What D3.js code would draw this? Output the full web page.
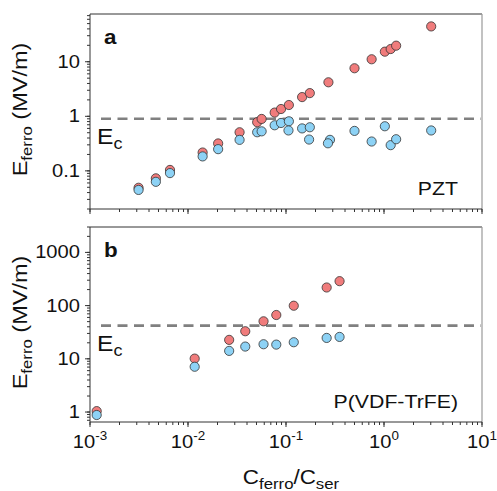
<!DOCTYPE html>
<html>
<head>
<meta charset="utf-8">
<script src="https://cdn.jsdelivr.net/npm/d3@7"></script>
<style>
  body { margin: 0; background: #fff; }
  text { font-family: "Liberation Sans", Arial, sans-serif; fill: #111; }
</style>
</head>
<body>
<div id="chart"></div>
<script>
// ---- data ----
// panel a : PZT
var pztRedC  = [0.00313, 0.0047, 0.00655, 0.0141, 0.0203, 0.0336, 0.0508, 0.0564, 0.0766, 0.089, 0.107, 0.146, 0.175, 0.271, 0.50, 0.748, 1.02, 1.17, 1.33, 3.03];
var pztRedE  = [0.049, 0.073, 0.104, 0.217, 0.318, 0.51, 0.78, 0.894, 1.17, 1.36, 1.61, 2.25, 2.66, 4.2, 7.6, 11.1, 15.3, 17.1, 19.7, 44.4];
var pztBlueC = [0.00313, 0.0047, 0.00655, 0.0141, 0.0203, 0.0336, 0.0508, 0.0564, 0.0766, 0.089, 0.107, 0.106, 0.146, 0.175, 0.172, 0.281, 0.268, 0.50, 0.748, 1.02, 1.17, 1.33, 3.03];
var pztBlueE = [0.0447, 0.063, 0.091, 0.184, 0.25, 0.37, 0.51, 0.53, 0.685, 0.755, 0.81, 0.55, 0.60, 0.63, 0.375, 0.37, 0.32, 0.54, 0.345, 0.657, 0.296, 0.38, 0.55];
var pztEc = 0.9;

// panel b : P(VDF-TrFE)
var pvdfC     = [0.00117, 0.0117, 0.0263, 0.0384, 0.059, 0.0796, 0.12, 0.26, 0.352];
var pvdfRedE  = [1.04, 10.1, 22.7, 33, 50.7, 66.6, 99.5, 219, 288];
var pvdfBlueE = [0.88, 7.1, 14.1, 17.0, 18.8, 18.5, 20.5, 24.7, 25.8];
var pvdfEc = 42;

var xTicks  = [1e-3, 1e-2, 1e-1, 1, 10];
var xExp    = ["-3", "-2", "-1", "0", "1"];
var yTicksA = [0.1, 1, 10];
var yTicksB = [1, 10, 100, 1000];

var W = 497, H = 491;
var redFill = "#f07c7c", blueFill = "#8dd2f5";
var K = 1.12; // the original lettering is a little wide

var svg = d3.select("#chart").append("svg")
  .attr("width", W).attr("height", H);

var x = d3.scaleLog().domain([1e-3, 10]).range([90, 482]);

// minor tick values for a log domain
function minorTicks(lo, hi) {
  var out = [];
  for (var e = Math.floor(Math.log10(lo)); e <= Math.ceil(Math.log10(hi)); e++) {
    for (var m = 1; m <= 9; m++) {
      var v = m * Math.pow(10, e);
      if (v >= lo * 0.9999 && v <= hi * 1.0001) out.push(v);
    }
  }
  return out;
}

// widen a text horizontally about its own x position
function widen(sel) {
  sel.attr("transform", function() {
    var px = +d3.select(this).attr("x");
    return "translate(" + px + ",0) scale(" + K + ",1) translate(" + (-px) + ",0)";
  });
}

function drawPanel(top, bottom, yDomain, yTicks, redC, redE, blueC, blueE, ec, letter, name, showXLabels) {
  var y = d3.scaleLog().domain(yDomain).range([bottom, top]);
  var g = svg.append("g");

  // frame: top + right lighter
  g.append("line").attr("x1", x.range()[0]).attr("x2", x.range()[1])
    .attr("y1", top).attr("y2", top).attr("stroke", "#333").attr("stroke-width", 1);
  g.append("line").attr("x1", x.range()[1]).attr("x2", x.range()[1])
    .attr("y1", top).attr("y2", bottom).attr("stroke", "#999").attr("stroke-width", 1.2);

  // y axis
  var yAxis = g.append("g").attr("transform", "translate(" + x.range()[0] + ",0)");
  yAxis.append("line").attr("y1", top).attr("y2", bottom).attr("stroke", "#333");
  yAxis.selectAll(".ymin").data(minorTicks(yDomain[0], yDomain[1])).enter()
    .append("line")
    .attr("x1", -3).attr("x2", 0)
    .attr("y1", function(d) { return y(d); }).attr("y2", function(d) { return y(d); })
    .attr("stroke", "#333");
  yAxis.selectAll(".ymaj").data(yTicks).enter()
    .append("line")
    .attr("x1", -5).attr("x2", 0)
    .attr("y1", function(d) { return y(d); }).attr("y2", function(d) { return y(d); })
    .attr("stroke", "#333");
  yAxis.selectAll(".ylab").data(yTicks).enter()
    .append("text")
    .attr("x", -10).attr("y", function(d) { return y(d) + 6; })
    .attr("text-anchor", "end").attr("font-size", 18)
    .text(function(d) { return d; })
    .call(widen);

  // x axis
  var xAxis = g.append("g").attr("transform", "translate(0," + bottom + ")");
  xAxis.append("line").attr("x1", x.range()[0]).attr("x2", x.range()[1]).attr("stroke", "#333");
  xAxis.selectAll(".xmin").data(minorTicks(1e-3, 10)).enter()
    .append("line")
    .attr("x1", function(d) { return x(d); }).attr("x2", function(d) { return x(d); })
    .attr("y1", 0).attr("y2", 3).attr("stroke", "#333");
  xAxis.selectAll(".xmaj").data(xTicks).enter()
    .append("line")
    .attr("x1", function(d) { return x(d); }).attr("x2", function(d) { return x(d); })
    .attr("y1", 0).attr("y2", 5).attr("stroke", "#333");
  if (showXLabels) {
    var lab = xAxis.selectAll(".xlab").data(xTicks).enter()
      .append("text")
      .attr("x", function(d) { return x(d); }).attr("y", 26)
      .attr("text-anchor", "middle").attr("font-size", 18);
    lab.append("tspan").text("10");
    lab.append("tspan").attr("dy", -8).attr("font-size", 12)
      .text(function(d, i) { return xExp[i]; });
    lab.call(widen);
  }

  // Ec dashed line
  g.append("line")
    .attr("x1", x.range()[0] + 11).attr("x2", x.range()[1] - 1)
    .attr("y1", y(ec)).attr("y2", y(ec))
    .attr("stroke", "#808080").attr("stroke-width", 2.6)
    .attr("stroke-dasharray", "10,6.5");

  var ecT = g.append("text").attr("x", 97).attr("y", y(ec) + 25).attr("font-size", 22);
  ecT.append("tspan").text("E");
  ecT.append("tspan").attr("dy", 5).attr("font-size", 16).text("c");
  ecT.call(widen);

  // markers: red first, blue on top
  g.selectAll(".red").data(redC).enter()
    .append("circle")
    .attr("cx", function(d) { return x(d); })
    .attr("cy", function(d, i) { return y(redE[i]); })
    .attr("r", 4.6).attr("fill", redFill).attr("stroke", "#333").attr("stroke-width", 0.8);
  g.selectAll(".blue").data(blueC).enter()
    .append("circle")
    .attr("cx", function(d) { return x(d); })
    .attr("cy", function(d, i) { return y(blueE[i]); })
    .attr("r", 4.6).attr("fill", blueFill).attr("stroke", "#333").attr("stroke-width", 0.8);

  // panel letter and material name
  g.append("text").attr("x", 104).attr("y", top + 30)
    .attr("font-size", 20).attr("font-weight", "bold").text(letter).call(widen);
  g.append("text").attr("x", 458).attr("y", bottom - 14)
    .attr("text-anchor", "end").attr("font-size", 19).text(name).call(widen);

  // y title
  var yt = g.append("text")
    .attr("transform", "translate(27," + ((top + bottom) / 2 - 2) + ") rotate(-90) scale(" + K + ",1)")
    .attr("text-anchor", "middle").attr("font-size", 21);
  yt.append("tspan").text("E");
  yt.append("tspan").attr("dy", 5).attr("font-size", 15).text("ferro");
  yt.append("tspan").attr("dy", -5).text(" (MV/m)");
}

drawPanel(14, 209, [0.02, 75], yTicksA, pztRedC, pztRedE, pztBlueC, pztBlueE, pztEc, "a", "PZT", false);
drawPanel(227, 422, [0.65, 3000], yTicksB, pvdfC, pvdfRedE, pvdfC, pvdfBlueE, pvdfEc, "b", "P(VDF-TrFE)", true);

// x title
var xt = svg.append("text").attr("x", 291).attr("y", 484)
  .attr("text-anchor", "middle").attr("font-size", 20);
xt.append("tspan").text("C");
xt.append("tspan").attr("dy", 5).attr("font-size", 15).text("ferro");
xt.append("tspan").attr("dy", -5).text("/C");
xt.append("tspan").attr("dy", 5).attr("font-size", 15).text("ser");
xt.call(widen);
</script>
</body>
</html>
